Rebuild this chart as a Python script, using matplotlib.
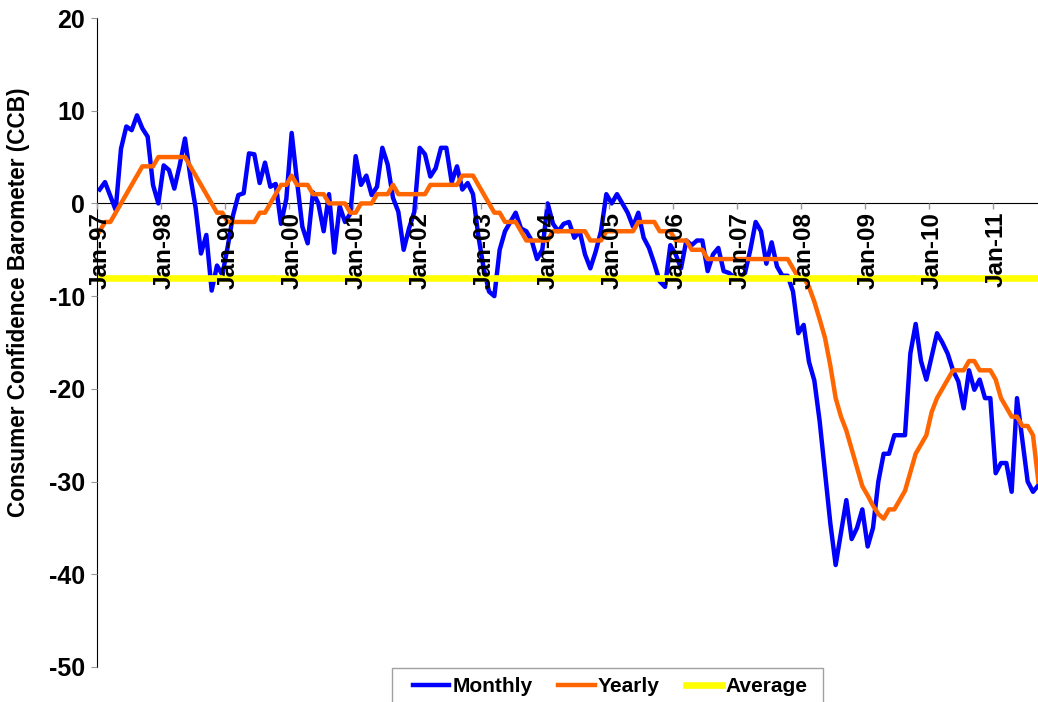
import matplotlib
matplotlib.use("Agg")
import matplotlib.pyplot as plt
from matplotlib.patches import Rectangle
import numpy as np

plt.rcParams['font.family'] = ['Liberation Sans', 'DejaVu Sans']
plt.rcParams['font.weight'] = 'bold'
plt.rcParams['axes.unicode_minus'] = False

# Jan-97 .. Sep-11, one value per month
monthly = [1.5, 2.3, 0.8, -0.7, 5.9, 8.3, 7.9, 9.5, 8.1, 7.2, 2.0, 0.0,
           4.1, 3.6, 1.6, 4.1, 7.0, 2.9, -0.5, -5.4, -3.4, -9.4, -6.7, -7.7,
           -4.7, -1.3, 0.9, 1.1, 5.4, 5.3, 2.2, 4.4, 1.8, 2.1, -2.2, 0.5,
           7.6, 2.4, -2.5, -4.3, 1.2, 0.0, -3.0, 1.0, -5.3, -0.3, -2.0, -1.1,
           5.1, 2.0, 3.0, 0.9, 1.8, 6.0, 4.2, 0.6, -0.9, -5.0, -2.7, -0.9,
           6.0, 5.3, 2.9, 3.8, 6.0, 6.0, 2.3, 4.0, 1.5, 2.2, 1.0, -3.5,
           -7.0, -9.5, -10.0, -5.0, -3.0, -2.0, -1.0, -2.7, -3.0, -4.0, -6.0, -5.0,
           0.0, -2.2, -3.0, -2.2, -2.0, -3.7, -3.0, -5.5, -7.0, -5.2, -3.0, 1.0,
           0.0, 1.0, 0.0, -1.0, -2.5, -1.0, -3.7, -4.8, -6.5, -8.4, -9.0, -4.5,
           -5.5, -7.0, -4.0, -4.5, -4.0, -4.0, -7.3, -5.5, -4.8, -7.3, -7.5, -8.0,
           -8.0, -7.5, -5.0, -2.0, -3.0, -6.5, -4.2, -6.8, -7.8, -7.8, -9.5, -14.0,
           -13.1, -17.1, -19.1, -23.5, -29.0, -34.5, -39.0, -35.5, -32.0, -36.2, -35.0, -33.0,
           -37.0, -35.0, -30.0, -27.0, -27.0, -25.0, -25.0, -25.0, -16.2, -13.0, -17.0, -19.0,
           -16.5, -14.0, -15.0, -16.2, -18.0, -19.2, -22.1, -18.0, -20.1, -19.0, -21.0, -21.0,
           -29.1, -28.0, -28.0, -31.1, -21.0, -25.5, -30.0, -31.1, -30.4]

yearly = [-3, -2, -2, -1, 0, 1, 2, 3, 4, 4, 4, 5,
          5, 5, 5, 5, 5, 4, 3, 2, 1, 0, -1, -1,
          -2, -2, -2, -2, -2, -2, -1, -1, 0, 1, 2, 2,
          3, 2, 2, 2, 1, 1, 1, 0, 0, 0, 0, -1,
          -1, 0, 0, 0, 1, 1, 1, 2, 1, 1, 1, 1,
          1, 1, 2, 2, 2, 2, 2, 2, 3, 3, 3, 2,
          1, 0, -1, -1, -2, -2, -2, -3, -4, -4, -4, -4,
          -4, -3, -3, -3, -3, -3, -3, -3, -4, -4, -4, -3,
          -3, -3, -3, -3, -3, -2, -2, -2, -2, -3, -3, -3,
          -4, -4, -4, -5, -5, -5, -6, -6, -6, -6, -6, -6,
          -6, -6, -6, -6, -6, -6, -6, -6, -6, -6, -7, -8,
          -8, -9, -10.6, -12.5, -14.5, -17.5, -21, -23, -24.5, -26.5, -28.5, -30.5,
          -31.5, -32.6, -33.5, -34, -33, -33, -32, -31, -29, -27, -26, -25,
          -22.5, -21, -20, -19, -18, -18, -18, -17, -17, -18, -18, -18,
          -19, -21, -22, -23, -23, -24, -24, -25, -30]

average = -8

year_labels = ['Jan-97', 'Jan-98', 'Jan-99', 'Jan-00', 'Jan-01', 'Jan-02', 'Jan-03',
               'Jan-04', 'Jan-05', 'Jan-06', 'Jan-07', 'Jan-08', 'Jan-09', 'Jan-10',
               'Jan-11']

n = len(monthly)
months = np.arange(n)

fig = plt.figure(figsize=(10.38, 7.02), dpi=100)
ax = fig.add_axes([97/1038, 35/702, 944/1038, 649/702])

ax.plot(months, monthly, color='#0000FF', lw=3.2, label='Monthly')
ax.plot(months, yearly, color='#FF6600', lw=3.2, label='Yearly')
ax.axhline(average, color='#FFFF00', lw=4.8, label='Average')

ax.set_xlim(-0.5, n - 0.5)
ax.set_ylim(-50, 20)
ax.set_yticks(range(-50, 21, 10))

ax.spines['top'].set_visible(False)
ax.spines['right'].set_visible(False)
ax.spines['bottom'].set_position(('data', 0))
ax.spines['bottom'].set_zorder(1)
ax.set_axisbelow(False)

ax.set_xticks(months[::12])
ax.set_xticklabels(year_labels)
ax.set_xticks(np.arange(-0.5, n, 12), minor=True)
ax.tick_params(axis='x', which='major', length=0, pad=6, labelrotation=90, labelsize=17.5)
ax.tick_params(axis='x', which='minor', length=4.5, color='#999999', width=1)
ax.tick_params(axis='y', length=4.5, color='#999999', labelsize=18, pad=4)

ax.set_ylabel('Consumer Confidence Barometer (CCB)', fontsize=16.3, fontweight='bold')
ax.yaxis.set_label_coords(-0.071, 0.562)

fig.legend(loc='center', bbox_to_anchor=(610/1038, 1 - 687/702), ncol=3, frameon=False,
           fontsize=15, handlelength=1.75, handletextpad=0.15, columnspacing=1.25)
fig.patches.append(Rectangle((392/1038, -0.01), 431/1038, 0.01 + 34/702, transform=fig.transFigure,
                             fill=False, edgecolor='#a0a0a0', lw=1))

fig.savefig('out.png', dpi=100)
